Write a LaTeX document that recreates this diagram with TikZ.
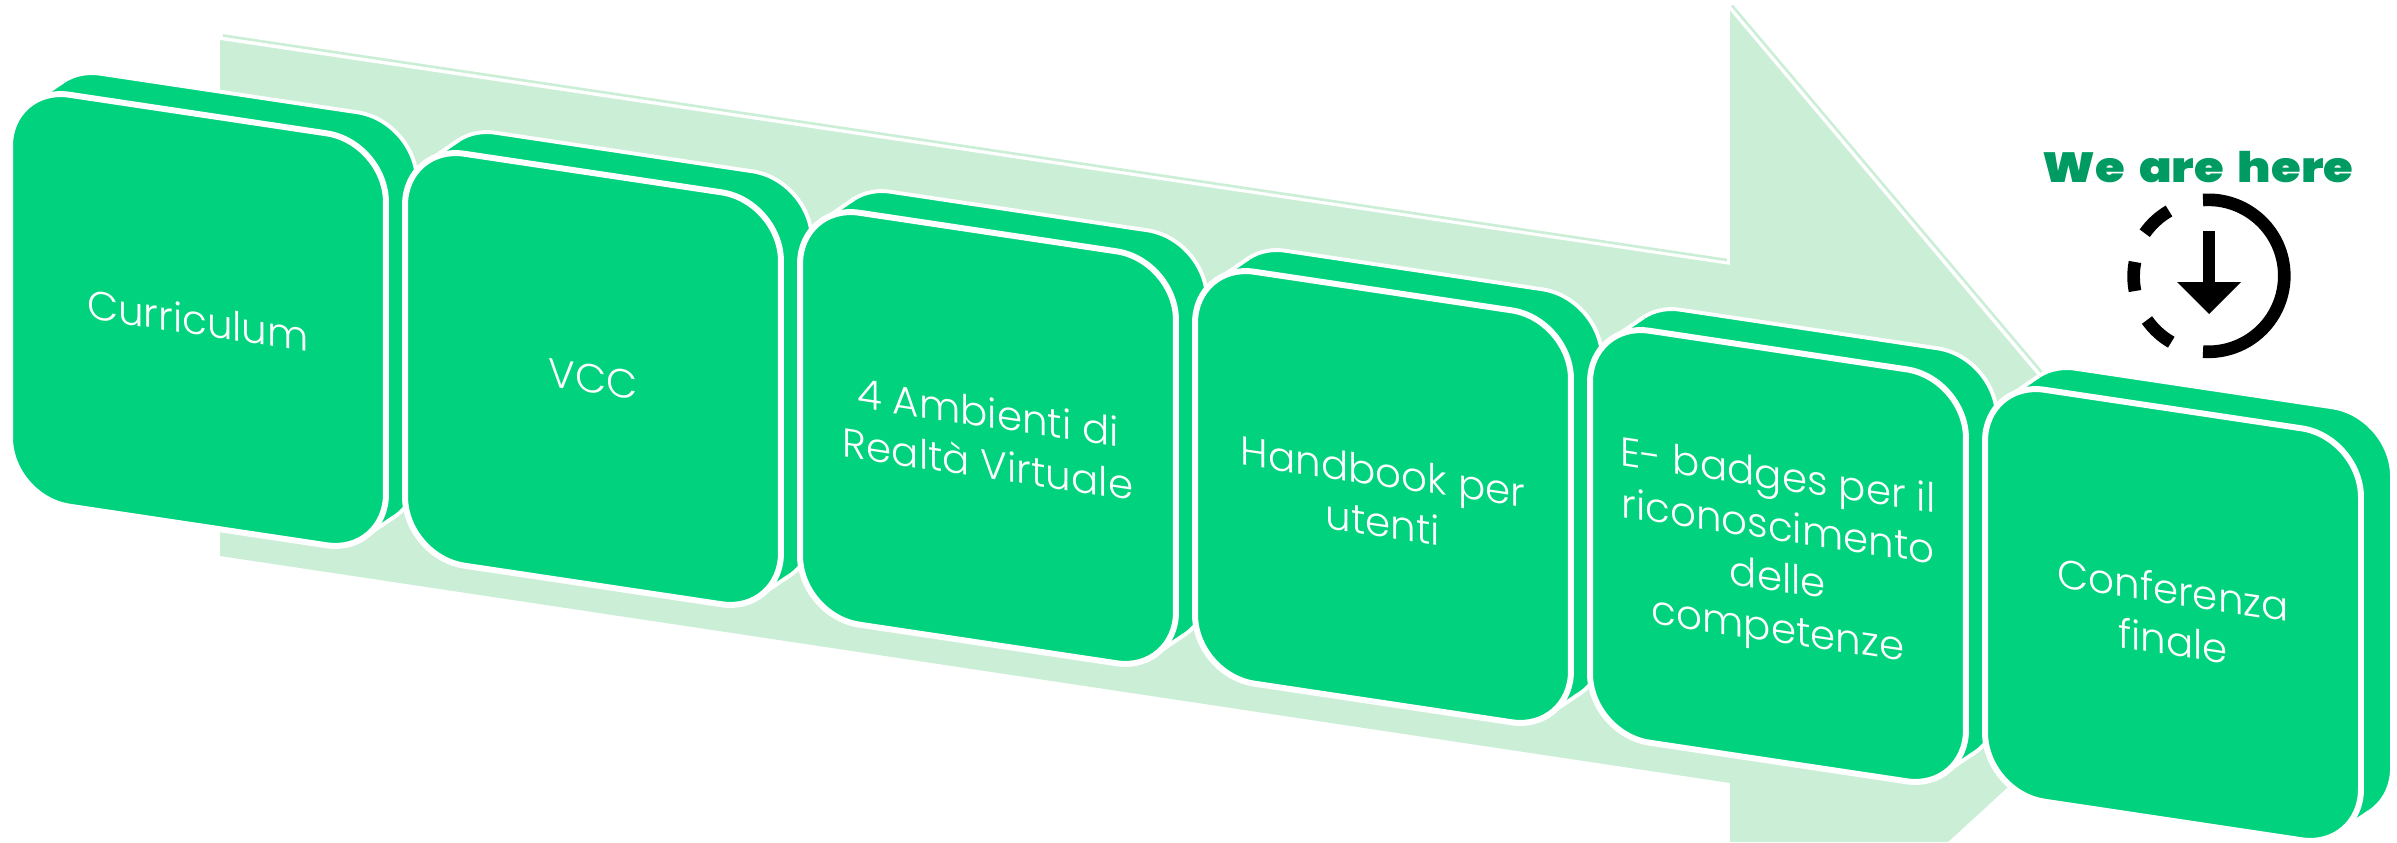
\documentclass[tikz,border=0pt]{standalone}
\usepackage{fontspec}
\newfontfamily\cardfont[UprightFont=* Light]{Poppins}
\newfontfamily\herefont[UprightFont=* Black,WordSpace=1.7]{Poppins}
\usetikzlibrary{positioning}
\definecolor{cardgreen}{RGB}{0,210,125}
\definecolor{palegreen}{RGB}{203,238,215}
\definecolor{heregreen}{RGB}{0,155,98}
\tikzset{
  backface/.style={rectangle,draw=white,line width=2.2pt,fill=cardgreen,outer sep=0pt,
    minimum width=7.52cm,minimum height=8.24cm,rounded corners=1.2cm,yslant=-0.15,transform shape},
  face/.style={backface,line width=3.4pt,text=white,align=center,
    font=\cardfont\fontsize{23}{29}\selectfont},
  heretext/.style={text=heregreen,font=\herefont\fontsize{24}{28}\selectfont,inner sep=0pt,xscale=1.14,transform shape},
  clockline/.style={line width=7.2pt,black}
}
\begin{document}
\begin{tikzpicture}[x=0.02cm,y=0.02cm]
\clip (0,0) rectangle (2397,-842);
% big arrow
\fill [palegreen] (220,-39) -- (1730,-264) -- (1730,-9) -- (2221,-592) -- (1948,-842) -- (1730,-842) -- (1730,-783) -- (220,-556) -- cycle;
\draw [palegreen,line width=1.5pt] (223,-35.5) -- (1727,-260);
\draw [palegreen,line width=1.5pt] (1732,-5.5) -- (2044,-375);
\draw [white,line width=1pt] (220,-39) -- (1730,-264);
\draw [white,line width=1pt] (1730,-9) -- (2042,-379);
\foreach \i/\cx/\cy/\txt in {1/198/320/{Curriculum},
  2/593/379/{VCC},
  3/988/438/{4 Ambienti di\\Realtà Virtuale},
  4/1383/497/{Handbook per\\utenti},
  5/1778/556/{E- badges per il\\riconoscimento\\delle\\competenze},
  6/2173/615/{Conferenza\\finale}}{
  \begin{scope}[shift={(\cx,-\cy)}]
  \node [backface] (back\i) at (31,21) {};
  \fill [cardgreen] (-165,218) -- (-134,239) -- (196,-197) -- (165,-218) -- cycle;
  \draw [white,line width=2.2pt] (-165,218) -- (-134,239);
  \draw [white,line width=2.2pt] (196,-197) -- (165,-218);
  \end{scope}
  \node [face] (card\i) at (\cx,-\cy) {\txt};
}
\node [heretext] (here) at (2198,-167) {We are here};
\draw [clockline] (2203,-200) arc (94:-94:76);
\draw [clockline] (2169,-211) arc (120:145:76);
\draw [clockline] (2135,-262) arc (169:191:76);
\draw [clockline] (2147,-320) arc (215:240:76);
\draw [clockline] (2209,-231) -- (2209,-284);
\fill [black] (2177,-282) -- (2241,-282) -- (2209,-314) -- cycle;
\end{tikzpicture}
\end{document}
